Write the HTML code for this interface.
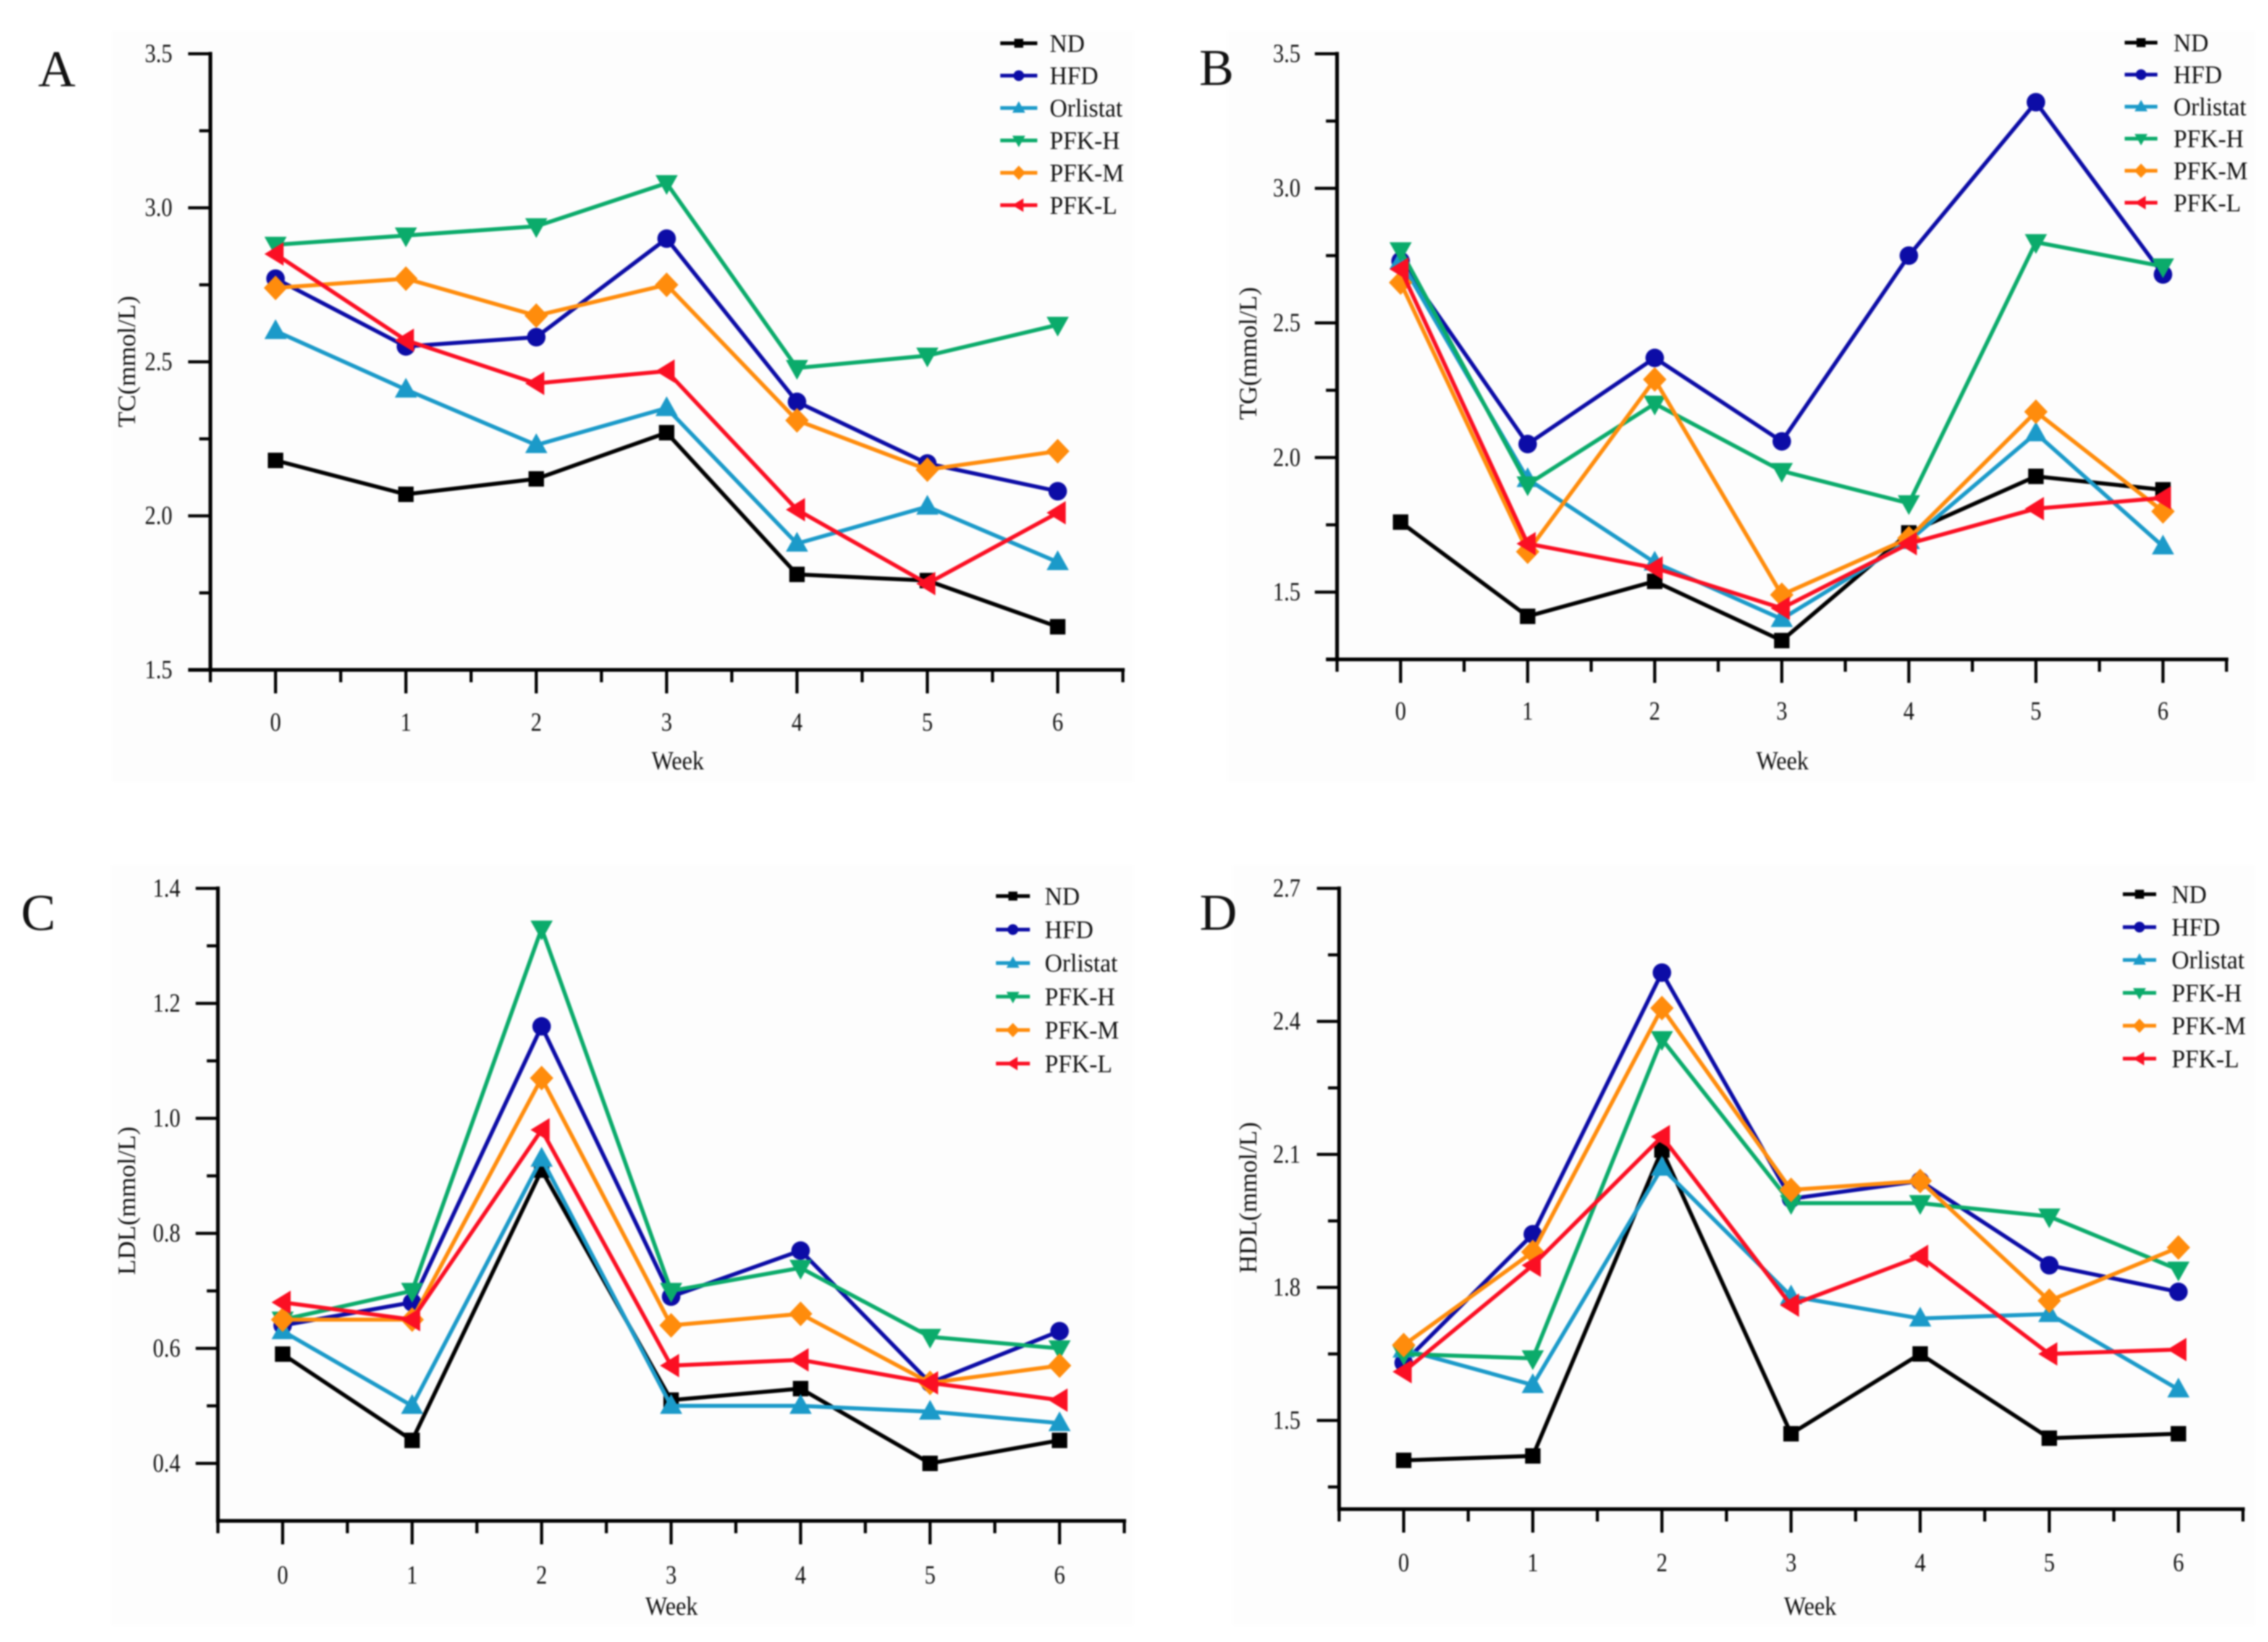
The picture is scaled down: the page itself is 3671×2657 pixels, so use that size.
<!DOCTYPE html>
<html lang="en">
<head>
<meta charset="utf-8">
<title>Serum lipid levels by week</title>
<style>
html,body{margin:0;padding:0;background:#fff;}
svg{display:block;filter:blur(1.3px);}
text{font-family:"Liberation Serif",serif;fill:#111;}
</style>
</head>
<body>
<svg id="figure" xmlns="http://www.w3.org/2000/svg" width="3671" height="2657" viewBox="0 0 3671 2657"></svg>
<script>
const weeks = [0, 1, 2, 3, 4, 5, 6];
const seriesNames = ['ND', 'HFD', 'Orlistat', 'PFK-H', 'PFK-M', 'PFK-L'];

const tcND = [2.18, 2.07, 2.12, 2.27, 1.81, 1.79, 1.64];
const tcHFD = [2.77, 2.55, 2.58, 2.90, 2.37, 2.17, 2.08];
const tcOrlistat = [2.60, 2.41, 2.23, 2.35, 1.91, 2.03, 1.85];
const tcHigh = [2.88, 2.91, 2.94, 3.08, 2.48, 2.52, 2.62];
const tcMid = [2.74, 2.77, 2.65, 2.75, 2.31, 2.15, 2.21];
const tcLow = [2.85, 2.57, 2.43, 2.47, 2.02, 1.78, 2.01];
const tcTicks = ['1.5', '2.0', '2.5', '3.0', '3.5'];

const tgND = [1.76, 1.41, 1.54, 1.32, 1.72, 1.93, 1.88];
const tgHFD = [2.73, 2.05, 2.37, 2.06, 2.75, 3.32, 2.68];
const tgOrlistat = [2.73, 1.92, 1.61, 1.40, 1.69, 2.09, 1.67];
const tgHigh = [2.77, 1.90, 2.20, 1.95, 1.83, 2.80, 2.71];
const tgMid = [2.65, 1.65, 2.29, 1.49, 1.70, 2.17, 1.80];
const tgLow = [2.70, 1.68, 1.59, 1.44, 1.68, 1.81, 1.85];
const tgTicks = ['1.5', '2.0', '2.5', '3.0', '3.5'];

const ldlND = [0.59, 0.44, 0.91, 0.51, 0.53, 0.40, 0.44];
const ldlHFD = [0.64, 0.68, 1.16, 0.69, 0.77, 0.54, 0.63];
const ldlOrlistat = [0.63, 0.50, 0.93, 0.50, 0.50, 0.49, 0.47];
const ldlHigh = [0.65, 0.70, 1.33, 0.70, 0.74, 0.62, 0.60];
const ldlMid = [0.65, 0.65, 1.07, 0.64, 0.66, 0.54, 0.57];
const ldlLow = [0.68, 0.65, 0.98, 0.57, 0.58, 0.54, 0.51];
const ldlTicks = ['0.4', '0.6', '0.8', '1.0', '1.2', '1.4'];

const hdlND = [1.41, 1.42, 2.11, 1.47, 1.65, 1.46, 1.47];
const hdlHFD = [1.63, 1.92, 2.51, 2.00, 2.04, 1.85, 1.79];
const hdlOrlistat = [1.66, 1.58, 2.07, 1.78, 1.73, 1.74, 1.57];
const hdlHigh = [1.65, 1.64, 2.36, 1.99, 1.99, 1.96, 1.84];
const hdlMid = [1.67, 1.88, 2.43, 2.02, 2.04, 1.77, 1.89];
const hdlLow = [1.61, 1.85, 2.14, 1.76, 1.87, 1.65, 1.66];
const hdlTicks = ['1.5', '1.8', '2.1', '2.4', '2.7'];

const seriesColors = ['#000000', '#0c0ca6', '#1b9ac9', '#0bab6b', '#ff8c0c', '#fb0f23'];
const markerKinds = ['square', 'circle', 'up', 'down', 'diamond', 'left'];
const NS = 'http://www.w3.org/2000/svg';
const figure = document.getElementById('figure');

function shape(tag, attrs, parent) {
  const node = document.createElementNS(NS, tag);
  for (const key in attrs) node.setAttribute(key, attrs[key]);
  parent.appendChild(node);
  return node;
}

function label(str, x, y, size, anchor, sx, rotate, parent) {
  const t = shape('text', {
    'font-size': size,
    'text-anchor': anchor,
    'dominant-baseline': 'central',
    transform: 'translate(' + x + ',' + y + ') rotate(' + rotate + ') scale(' + sx + ',1)'
  }, parent);
  t.textContent = str;
  return t;
}

function marker(kind, x, y, k, color, parent) {
  if (kind === 'square') {
    return shape('rect', {x: x - 12.5 * k, y: y - 12.5 * k, width: 25 * k, height: 25 * k, fill: color}, parent);
  }
  if (kind === 'circle') {
    return shape('circle', {cx: x, cy: y, r: 15 * k, fill: color}, parent);
  }
  let pts;
  if (kind === 'up') pts = [[0, -19], [18, 13], [-18, 13]];
  if (kind === 'down') pts = [[0, 19], [18, -13], [-18, -13]];
  if (kind === 'diamond') pts = [[0, -20], [19, 0], [0, 20], [-19, 0]];
  if (kind === 'left') pts = [[-18, 0], [13, -19], [13, 19]];
  const str = pts.map(function (p) { return (x + p[0] * k) + ',' + (y + p[1] * k); }).join(' ');
  return shape('polygon', {points: str, fill: color}, parent);
}

function drawPanel(name, letter, layout, yLabel, tickLabels, minorStep, values) {
  const g = shape('g', {}, figure);
  
  

  const bg = shape('rect', {x: layout.bg[0], y: layout.bg[1], width: layout.bg[2], height: layout.bg[3], fill: '#fdfdfd'}, g);
  
  

  const xScale = function (w) { return layout.x0 + (layout.x6 - layout.x0) * w / 6; };
  const yScale = function (v) {
    return layout.yBottom + (layout.yTop - layout.yBottom) * (v - layout.vMin) / (layout.vMax - layout.vMin);
  };
  const axisLeft = xScale(-0.5);
  const axisRight = xScale(6.5);

  const yAxis = shape('line', {x1: axisLeft, x2: axisLeft, y1: layout.yTop - 3, y2: layout.yBottom + 3, stroke: '#000', 'stroke-width': 6}, g);
  
  

  const xAxis = shape('line', {x1: axisLeft - layout.cornerTick, x2: axisRight + 3, y1: layout.yBottom, y2: layout.yBottom, stroke: '#000', 'stroke-width': 6}, g);
  
  

  for (let i = -1; i <= 13; i++) {
    const w = i / 2;
    const major = i >= 0 && i % 2 === 0 && i <= 12;
    const tick = shape('line', {x1: xScale(w), x2: xScale(w), y1: layout.yBottom, y2: layout.yBottom + (major ? 38 : 20), stroke: '#000', 'stroke-width': 5}, g);
    
    
  }
  weeks.forEach(function (w) {
    const t = label(String(w), xScale(w), layout.xLabelY, 42, 'middle', 0.85, 0, g);
    
    
  });

  const firstTick = Number(tickLabels[0]);
  const lastTick = Number(tickLabels[tickLabels.length - 1]);
  for (let v = firstTick - minorStep; v < lastTick; v += 2 * minorStep) {
    if (v < layout.vMin + 0.0001) continue;
    const minor = shape('line', {x1: axisLeft - 18, x2: axisLeft, y1: yScale(v), y2: yScale(v), stroke: '#000', 'stroke-width': 5}, g);
    
    
  }
  tickLabels.forEach(function (str) {
    const v = Number(str);
    const tick = shape('line', {x1: axisLeft - 36, x2: axisLeft, y1: yScale(v), y2: yScale(v), stroke: '#000', 'stroke-width': 5}, g);
    
    
    const t = label(str, layout.yLabelRight, yScale(v), 42, 'end', 0.85, 0, g);
    
    
  });

  const yTitle = label(yLabel, layout.yTitleX, layout.yTitleY, 40, 'middle', 1.03, -90, g);
  
  

  const xTitle = label('Week', layout.xTitleX, layout.xTitleY, 42, 'middle', 0.9, 0, g);
  
  

  const panelLetter = label(letter, layout.letterX, layout.letterY, 84, 'middle', 1, 0, g);
  
  

  values.forEach(function (series, s) {
    const color = seriesColors[s];
    const sg = shape('g', {}, g);
    
    
    const pts = series.map(function (v, i) { return xScale(weeks[i]) + ',' + yScale(v); }).join(' ');
    const line = shape('polyline', {points: pts, fill: 'none', stroke: color, 'stroke-width': 6.5, 'stroke-linejoin': 'miter'}, sg);
    
    
    series.forEach(function (v, i) {
      const m = marker(markerKinds[s], xScale(weeks[i]), yScale(v), 1, color, sg);
      
      
    });
  });

  const legend = shape('g', {}, g);
  
  
  seriesNames.forEach(function (sn, s) {
    const ly = layout.legendY + layout.legendStep * s;
    const entry = shape('g', {}, legend);
    
    
    shape('line', {x1: layout.legendX1, x2: layout.legendX2, y1: ly, y2: ly, stroke: seriesColors[s], 'stroke-width': 6}, entry);
    marker(markerKinds[s], (layout.legendX1 + layout.legendX2) / 2, ly, 0.58, seriesColors[s], entry);
    label(sn, layout.legendText, ly, 41, 'start', 0.96, 0, entry);
  });
}

drawPanel('tc', 'A', {
  bg: [181, 50, 1654, 1215], x0: 446, x6: 1712, yTop: 87, yBottom: 1084, vMin: 1.5, vMax: 3.5,
  cornerTick: 36, xLabelY: 1169, yLabelRight: 279, yTitleX: 205, yTitleY: 585, xTitleX: 1097, xTitleY: 1231,
  letterX: 92, letterY: 112, legendX1: 1619, legendX2: 1679, legendY: 70, legendStep: 52.4, legendText: 1699
}, 'TC(mmol/L)', tcTicks, 0.25, [tcND, tcHFD, tcOrlistat, tcHigh, tcMid, tcLow]);

drawPanel('tg', 'B', {
  bg: [1987, 50, 1663, 1215], x0: 2267, x6: 3501, yTop: 87, yBottom: 1067, vMin: 1.25, vMax: 3.5,
  cornerTick: 18, xLabelY: 1151, yLabelRight: 2105, yTitleX: 2020, yTitleY: 572, xTitleX: 2885, xTitleY: 1231,
  letterX: 1969, letterY: 110, legendX1: 3439, legendX2: 3492, legendY: 69, legendStep: 51.8, legendText: 3518
}, 'TG(mmol/L)', tgTicks, 0.25, [tgND, tgHFD, tgOrlistat, tgHigh, tgMid, tgLow]);

drawPanel('ldl', 'C', {
  bg: [180, 1400, 1655, 1230], x0: 457.5, x6: 1715, yTop: 1437.5, yBottom: 2461, vMin: 0.3, vMax: 1.4,
  cornerTick: 0, xLabelY: 2549, yLabelRight: 292, yTitleX: 205, yTitleY: 1943, xTitleX: 1087, xTitleY: 2599,
  letterX: 62, letterY: 1477, legendX1: 1612, legendX2: 1667, legendY: 1450, legendStep: 54.2, legendText: 1691
}, 'LDL(mmol/L)', ldlTicks, 0.1, [ldlND, ldlHFD, ldlOrlistat, ldlHigh, ldlMid, ldlLow]);

drawPanel('hdl', 'D', {
  bg: [1995, 1400, 1655, 1230], x0: 2272, x6: 3526, yTop: 1437.5, yBottom: 2442, vMin: 1.3, vMax: 2.7,
  cornerTick: 0, xLabelY: 2529, yLabelRight: 2105, yTitleX: 2020, yTitleY: 1938, xTitleX: 2930, xTitleY: 2599,
  letterX: 1972, letterY: 1477, legendX1: 3436, legendX2: 3490, legendY: 1447, legendStep: 53.2, legendText: 3515
}, 'HDL(mmol/L)', hdlTicks, 0.15, [hdlND, hdlHFD, hdlOrlistat, hdlHigh, hdlMid, hdlLow]);
</script>
</body>
</html>
